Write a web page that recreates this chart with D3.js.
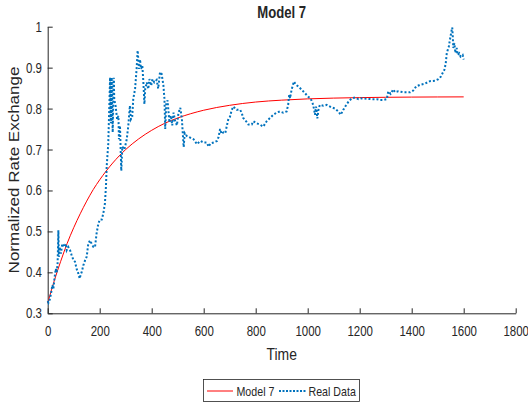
<!DOCTYPE html>
<html lang="en">
<head>
<meta charset="UTF-8">
<title>Model 7</title>
<script src="https://cdn.jsdelivr.net/npm/d3@7"></script>
<style>
  body { margin: 0; background: #fff; }
  text { font-family: "Liberation Sans", Arial, sans-serif; fill: #262626; }
</style>
</head>
<body>
<script>
  // values
  const modelTime = [0, 25, 50, 75, 100, 125, 150, 175, 200, 250, 300, 350, 400, 450, 500, 600, 700, 800, 900, 1000, 1100, 1200, 1300, 1400, 1500, 1600];
  const modelValue = [0.325, 0.379, 0.427, 0.471, 0.509, 0.543, 0.574, 0.602, 0.626, 0.667, 0.700, 0.726, 0.747, 0.764, 0.777, 0.796, 0.808, 0.816, 0.8206, 0.8237, 0.8256, 0.8268, 0.8276, 0.8281, 0.8284, 0.8286];

  const realTime = [0, 3, 8, 13, 18, 22, 26, 31, 35, 38, 40, 41, 43, 46, 51, 56, 60, 64, 69, 73, 79, 86, 92, 99, 105, 111, 118, 123, 127, 131, 137, 144, 150, 156, 163, 169, 176, 182, 188, 195, 201, 208, 214, 220, 224, 227, 233, 237, 240, 243, 246, 250, 254, 256, 261, 267, 272, 274, 278, 283, 287, 295, 304, 310, 316, 320, 325, 329, 336, 342, 346, 351, 355, 359, 364, 368, 372, 375, 381, 387, 391, 398, 403, 410, 419, 425, 432, 438, 445, 449, 452, 456, 461, 465, 468, 474, 479, 484, 490, 497, 503, 510, 516, 520, 523, 527, 535, 548, 561, 574, 587, 600, 612, 619, 626, 638, 651, 657, 663, 669, 676, 683, 689, 695, 701, 708, 715, 721, 727, 740, 746, 752, 763, 772, 785, 791, 804, 816, 829, 842, 855, 868, 880, 893, 906, 919, 925, 929, 932, 938, 947, 955, 964, 977, 989, 1002, 1011, 1019, 1024, 1028, 1032, 1037, 1042, 1047, 1060, 1073, 1092, 1105, 1118, 1127, 1137, 1148, 1157, 1169, 1182, 1195, 1208, 1227, 1246, 1266, 1279, 1292, 1304, 1310, 1319, 1329, 1336, 1348, 1368, 1394, 1406, 1417, 1432, 1451, 1470, 1490, 1503, 1512, 1519, 1526, 1531, 1535, 1539, 1543, 1547, 1554, 1556, 1558, 1560, 1564, 1568, 1573, 1577, 1583, 1588, 1596, 1600];
  const realValue = [0.330, 0.326, 0.334, 0.349, 0.369, 0.360, 0.385, 0.409, 0.400, 0.422, 0.470, 0.503, 0.438, 0.462, 0.446, 0.470, 0.465, 0.462, 0.470, 0.454, 0.462, 0.454, 0.442, 0.430, 0.426, 0.409, 0.397, 0.385, 0.395, 0.401, 0.417, 0.430, 0.438, 0.470, 0.478, 0.470, 0.462, 0.462, 0.495, 0.520, 0.529, 0.529, 0.544, 0.568, 0.609, 0.660, 0.715, 0.807, 0.876, 0.764, 0.876, 0.742, 0.875, 0.823, 0.807, 0.774, 0.782, 0.725, 0.758, 0.648, 0.707, 0.700, 0.725, 0.758, 0.807, 0.774, 0.780, 0.823, 0.848, 0.897, 0.942, 0.897, 0.920, 0.897, 0.905, 0.864, 0.811, 0.848, 0.864, 0.848, 0.872, 0.856, 0.872, 0.864, 0.870, 0.849, 0.889, 0.885, 0.857, 0.824, 0.750, 0.811, 0.820, 0.790, 0.766, 0.783, 0.759, 0.790, 0.770, 0.759, 0.790, 0.802, 0.775, 0.735, 0.706, 0.740, 0.733, 0.729, 0.725, 0.713, 0.721, 0.717, 0.717, 0.707, 0.715, 0.717, 0.721, 0.730, 0.750, 0.738, 0.742, 0.740, 0.758, 0.775, 0.780, 0.797, 0.805, 0.800, 0.797, 0.797, 0.790, 0.777, 0.769, 0.761, 0.761, 0.769, 0.764, 0.761, 0.756, 0.769, 0.777, 0.785, 0.790, 0.793, 0.790, 0.793, 0.810, 0.834, 0.825, 0.846, 0.866, 0.858, 0.854, 0.846, 0.838, 0.829, 0.825, 0.813, 0.800, 0.785, 0.805, 0.776, 0.800, 0.809, 0.807, 0.809, 0.803, 0.800, 0.793, 0.785, 0.797, 0.809, 0.817, 0.825, 0.827, 0.823, 0.825, 0.824, 0.823, 0.823, 0.821, 0.821, 0.823, 0.842, 0.836, 0.847, 0.840, 0.842, 0.840, 0.840, 0.844, 0.854, 0.858, 0.861, 0.867, 0.868, 0.872, 0.878, 0.887, 0.895, 0.911, 0.936, 0.944, 0.952, 0.968, 0.993, 0.998, 0.976, 0.948, 0.960, 0.936, 0.948, 0.931, 0.935, 0.927, 0.931, 0.920];

  const xTicks = [0, 200, 400, 600, 800, 1000, 1200, 1400, 1600, 1800];
  const yTicks = [0.3, 0.4, 0.5, 0.6, 0.7, 0.8, 0.9, 1];
  const seriesNames = ["Model 7", "Real Data"];

  const W = 528, H = 405;
  const sx = 0.82; // picture is a bit squeezed sideways, so is the text
  const plotLeft = 47.7, plotRight = 515.7, plotTop = 26.7, plotBottom = 313.3;

  const svg = d3.select("body").append("svg")
    .attr("width", W)
    .attr("height", H);

  const x = d3.scaleLinear().domain([0, 1800]).range([plotLeft, plotRight]);
  const y = d3.scaleLinear().domain([0.3, 1]).range([plotBottom, plotTop]);

  const xAxis = d3.axisBottom(x).tickValues(xTicks).tickFormat(d3.format("d"))
    .tickSizeInner(-5).tickSizeOuter(0).tickPadding(13);
  const yAxis = d3.axisLeft(y).tickValues(yTicks).tickFormat(d => d === 1 ? "1" : d3.format(".1f")(d))
    .tickSizeInner(-5).tickSizeOuter(0).tickPadding(7);

  const gx = svg.append("g").attr("transform", `translate(0,${plotBottom})`).call(xAxis);
  const gy = svg.append("g").attr("transform", `translate(${plotLeft},0)`).call(yAxis);

  [gx, gy].forEach(g => {
    g.select(".domain").attr("stroke", "#262626").attr("stroke-width", 1);
    g.selectAll(".tick line").attr("stroke", "#262626").attr("stroke-width", 1);
    g.selectAll(".tick text")
      .attr("font-size", 14)
      .attr("font-family", "'Liberation Sans', Arial, sans-serif")
      .attr("fill", "#262626")
      .attr("transform", `scale(${sx},1)`);
  });

  const line = d3.line().x(d => x(d[0])).y(d => y(d[1]));

  // model curve
  svg.append("path")
    .datum(modelTime.map((t, i) => [t, modelValue[i]]))
    .attr("fill", "none")
    .attr("stroke", "#ff0000")
    .attr("stroke-width", 1)
    .attr("d", line.curve(d3.curveMonotoneX));

  // real data, dotted
  svg.append("path")
    .datum(realTime.map((t, i) => [t, realValue[i]]))
    .attr("fill", "none")
    .attr("stroke", "#0072bd")
    .attr("stroke-width", 2)
    .attr("stroke-dasharray", "2,2")
    .attr("d", line.curve(d3.curveLinear));

  // title + labels
  svg.append("text")
    .attr("transform", `translate(${(plotLeft + plotRight) / 2},18) scale(${sx},1)`)
    .attr("text-anchor", "middle")
    .attr("font-size", 16)
    .attr("font-weight", "bold")
    .attr("fill", "#000")
    .text("Model 7");

  svg.append("text")
    .attr("transform", `translate(${(plotLeft + plotRight) / 2},360) scale(${sx},1)`)
    .attr("text-anchor", "middle")
    .attr("font-size", 17)
    .text("Time");

  svg.append("text")
    .attr("transform", `translate(19,${(plotTop + plotBottom) / 2}) scale(${sx},1) rotate(-90)`)
    .attr("text-anchor", "middle")
    .attr("font-size", 17)
    .text("Normalized Rate Exchange");

  // legend
  const leg = svg.append("g");
  leg.append("rect")
    .attr("x", 203.5).attr("y", 379.5)
    .attr("width", 156).attr("height", 22)
    .attr("fill", "#fff")
    .attr("stroke", "#262626")
    .attr("stroke-width", 0.8);

  const legItems = [
    { name: seriesNames[0], x0: 207, x1: 233, tx: 236.5, color: "#ff0000", w: 1, dash: null },
    { name: seriesNames[1], x0: 279, x1: 306, tx: 308.5, color: "#0072bd", w: 2, dash: "2,1.5" }
  ];
  legItems.forEach(d => {
    leg.append("line")
      .attr("x1", d.x0).attr("x2", d.x1)
      .attr("y1", 391).attr("y2", 391)
      .attr("stroke", d.color)
      .attr("stroke-width", d.w)
      .attr("stroke-dasharray", d.dash);
    leg.append("text")
      .attr("transform", `translate(${d.tx},396) scale(${sx},1)`)
      .attr("font-size", 13)
      .attr("fill", "#000")
      .text(d.name);
  });
</script>
</body>
</html>
